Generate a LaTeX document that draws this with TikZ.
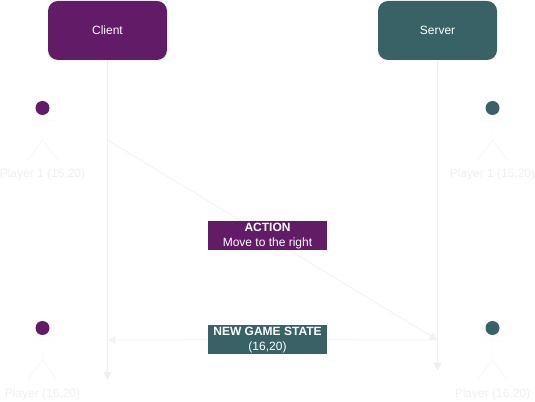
\documentclass[tikz,border=0pt]{standalone}
\usepackage{fontspec}
\setmainfont{Liberation Sans}
\usetikzlibrary{arrows.meta}
\definecolor{clientc}{HTML}{621B66}
\definecolor{serverc}{HTML}{386266}
\definecolor{faint}{HTML}{EEEEF0}
\definecolor{flowc}{HTML}{F3F3F3}
\definecolor{stick}{HTML}{F6F6F6}
\definecolor{ghost}{HTML}{FCFCFC}
\definecolor{labelc}{HTML}{EFEFEF}
\tikzset{x=0.75pt,y=-0.75pt,
 actor/.style={rounded corners=7.5pt,text=white,font=\fontsize{9}{9}\selectfont,inner sep=0pt,minimum width=89.25pt,minimum height=44.25pt},
 msg/.style={fill=none,text=white,font=\fontsize{9}{11}\selectfont,align=center,inner sep=0pt},
 msgbox/.style={inner sep=0pt,minimum width=89.25pt,minimum height=21.75pt},
 life/.style={draw=faint,line width=0.75pt,-{Triangle[length=6pt,width=6pt]}},
 flow/.style={draw=flowc,line width=0.75pt},
 flowtip/.style={flow,-{Triangle[length=6pt,width=6pt]}},
 head/.style={circle,inner sep=0pt,minimum size=10.5pt},
 limb/.style={draw=stick,line width=0.6pt},
 torso/.style={draw=ghost,line width=0.6pt},
 who/.style={text=labelc,font=\fontsize{9}{9}\selectfont,inner sep=0pt}}
\newcommand{\stickman}[4]{%
 \node[head,fill=#4] (#1h) at (#2,#3) {};
 \coordinate (#1hip) at (#2,#3+32);
 \coordinate (#1al) at (#2-15,#3+12);
 \coordinate (#1ar) at (#2+15,#3+12);
 \coordinate (#1ll) at (#2-15,#3+52);
 \coordinate (#1lr) at (#2+15,#3+52);
 \draw[torso] (#1h) -- (#1hip);
 \draw[torso] (#1al) -- (#1ar);
 \draw[limb] (#1ll) -- (#1hip) -- (#1lr);
}
\begin{document}
\begin{tikzpicture}
\useasboundingbox (0,0) rectangle (535,402);
\node[actor,fill=clientc] (client) at (107.5,30.5) {Client};
\node[actor,fill=serverc] (server) at (437.5,30.5) {Server};
\coordinate (cend) at (107.5,380);
\coordinate (send) at (437.5,370.5);
\draw[life] (client) -- (cend);
\draw[life] (server) -- (send);
\coordinate (c1) at (107.5,140);
\coordinate (s1) at (437.5,340);
\coordinate (c2) at (107.5,340);
\draw[flowtip] (c1) -- (s1);
\node[msgbox,fill=clientc] (act) at (267.5,235.5) {};
\node[msgbox,fill=serverc] (ngs) at (267.5,339.5) {};
\node[msg] (actt) at (267.5,236) {\textbf{ACTION}\\Move to the right};
\node[msg] (ngst) at (267.5,340) {\textbf{NEW GAME STATE}\\(16,20)};
\draw[flow] (s1) -- (ngs);
\draw[flowtip] (ngs) -- (c2);
\stickman{a}{42.5}{108}{clientc}
\stickman{b}{492.5}{108}{serverc}
\stickman{c}{42.5}{328}{clientc}
\stickman{d}{492.5}{328}{serverc}
\node[who] (la) at (42.5,174.5) {Player 1 (15,20)};
\node[who] (lb) at (492.5,174.5) {Player 1 (15,20)};
\node[who] (lc) at (42.5,394.5) {Player (16,20)};
\node[who] (ld) at (492.5,394.5) {Player (16,20)};
\end{tikzpicture}
\end{document}
